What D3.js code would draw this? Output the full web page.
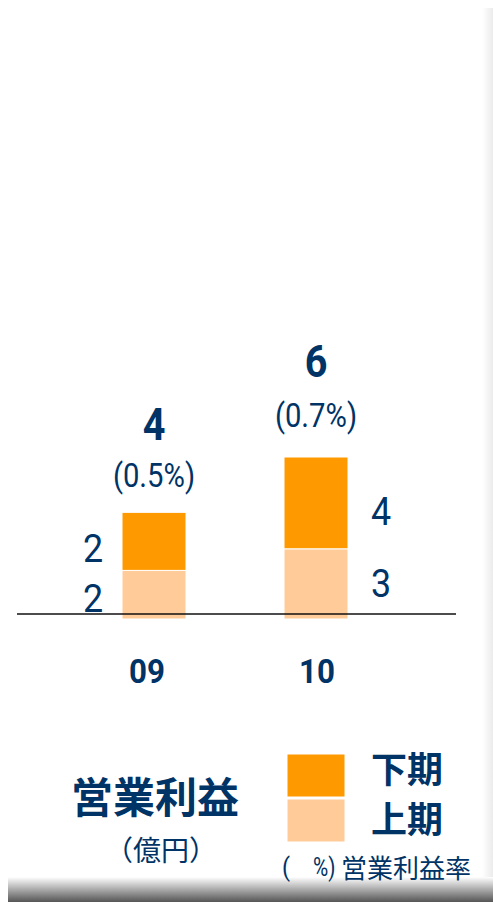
<!DOCTYPE html>
<html><head><meta charset="utf-8">
<script src="https://cdn.jsdelivr.net/npm/d3@7"></script>
<style>html,body{margin:0;padding:0;background:#fff;}svg{display:block;}</style>
</head><body>
<script>
// ---- data ----
const categories = ["09", "10"];
const firstHalf  = [1.8, 2.6];   // 上期
const secondHalf = [2.15, 3.4];  // 下期
const firstLabels  = ["2", "3"];
const secondLabels = ["2", "4"];
const totalLabels  = ["4", "6"];
const marginLabels = ["(0.5%)", "(0.7%)"];
const legendNames  = ["下期", "上期"];

// ---- layout ----
const W = 493, H = 902;
const navy = "#003366", dark = "#FF9900", light = "#FFCC99";
const numFont = "Roboto, 'Liberation Sans', sans-serif";
const jpFont = "'Noto Sans CJK JP', sans-serif";

const svg = d3.select("body").append("svg").attr("width", W).attr("height", H);
const defs = svg.append("defs");
const gb = defs.append("linearGradient").attr("id","gb").attr("x1",0).attr("y1",0).attr("x2",0).attr("y2",1);
gb.append("stop").attr("offset",0).attr("stop-color","#ffffff");
gb.append("stop").attr("offset",1).attr("stop-color","#555555");
const gr = defs.append("linearGradient").attr("id","gr").attr("x1",0).attr("y1",0).attr("x2",1).attr("y2",0);
gr.append("stop").attr("offset",0).attr("stop-color","#ffffff");
gr.append("stop").attr("offset",1).attr("stop-color","#ebebeb");
svg.append("rect").attr("x",482).attr("y",8).attr("width",11).attr("height",872).attr("fill","url(#gr)");
svg.append("rect").attr("x",8).attr("y",877).attr("width",485).attr("height",25).attr("fill","url(#gb)");

const x = d3.scalePoint().domain(categories).range([154, 316]);
const y = d3.scaleLinear().domain([0, 6]).range([619, 457]);
const bw = 64;

const rows = categories.map((c, i) => ({c, a: firstHalf[i], b: secondHalf[i]}));
const stack = d3.stack().keys(["a", "b"])(rows);
const colors = {a: light, b: dark};

svg.append("g").selectAll("g").data(stack).join("g")
  .attr("fill", d => colors[d.key])
  .selectAll("rect").data(d => d).join("rect")
  .attr("x", d => x(d.data.c) - bw / 2)
  .attr("width", bw)
  .attr("y", d => y(d[1]))
  .attr("height", d => y(d[0]) - y(d[1]))
  .attr("stroke", "#fff").attr("stroke-width", 1);

// baseline
svg.append("line").attr("x1", 17).attr("x2", 456)
  .attr("y1", y(0) - 5).attr("y2", y(0) - 5)
  .attr("stroke", "#111").attr("stroke-width", 1.6);

function txt(xp, yp, s, size, opts = {}) {
  const g = svg.append("g").attr("transform", `translate(${xp},${yp})`);
  return g.append("text")
    .attr("transform", `scale(${opts.sx || 1},1)`)
    .attr("text-anchor", opts.anchor || "middle")
    .attr("dominant-baseline", opts.db || "auto")
    .attr("font-family", opts.font || numFont)
    .attr("font-weight", opts.bold ? "bold" : "normal")
    .attr("font-size", size).attr("fill", navy).text(s);
}

categories.forEach((c, i) => {
  const top = y(firstHalf[i] + secondHalf[i]);
  txt(x(c), top - 72 - 8 * i, totalLabels[i], 44, {bold: true, sx: 0.9});
  txt(x(c), top - 25 - 5 * i, marginLabels[i], 34, {sx: 0.86});
  txt(x(c) - (i === 0 ? 7 : -1), 683, c, 33, {bold: true, sx: 0.95});
});
// segment labels: left of 09, right of 10
[0, 1].forEach(i => {
  const c = categories[i];
  const lx = i === 0 ? x(c) - 61 : x(c) + 65;
  const midA = (y(0) + y(firstHalf[i])) / 2;
  const midB = (y(firstHalf[i]) + y(firstHalf[i] + secondHalf[i])) / 2;
  txt(lx, i === 0 ? 612 : midA + 13, firstLabels[i], 39, {sx: 0.92});
  txt(lx, i === 0 ? 562 : midB + 22, secondLabels[i], 39, {sx: 0.92});
});

// title block
txt(155, 794, "営業利益", 42, {font: jpFont, bold: true, db: "central"});
txt(161, 849, "（億円）", 28, {font: jpFont, db: "central"});

// legend
const leg = svg.append("g");
[dark, light].forEach((col, i) => {
  leg.append("rect").attr("x", 287).attr("y", 754 + i * 45).attr("width", 58).attr("height", 43)
    .attr("fill", col).attr("stroke", "#fff").attr("stroke-width", 1);
  txt(371, 767 + i * 50, legendNames[i], 36, {font: jpFont, bold: true, anchor: "start", db: "central"});
});
txt(282, 876, "(", 26, {anchor: "start", sx: 0.9});
txt(313, 876, "%)", 26, {anchor: "start", sx: 0.8});
txt(341, 866, "営業利益率", 26, {font: jpFont, anchor: "start", db: "central"});
</script>
</body></html>
